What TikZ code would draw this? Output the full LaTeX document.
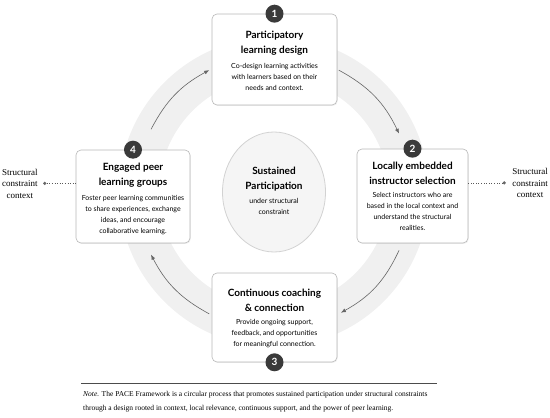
\documentclass[tikz,border=0pt]{standalone}
\usepackage{fontspec}
\setmainfont{Liberation Serif}
\newfontfamily\pacefont{Lato}
\usepackage{tikz}
\usetikzlibrary{shapes.geometric, arrows.meta, positioning, shadows, calc}
\definecolor{ringgray}{HTML}{F0F0F0}
\definecolor{badgegray}{HTML}{3A3A3A}
\definecolor{edgegray}{HTML}{B8B8B8}
\definecolor{hubfill}{HTML}{F5F5F5}
\tikzstyle{stage} = [rectangle, rounded corners=5pt, draw=edgegray, fill=white, line width=0.6pt, drop shadow={opacity=0.12, shadow xshift=0.8pt, shadow yshift=-1pt}]
\tikzstyle{stagetitle} = [inner sep=0pt, align=center, font=\pacefont\bfseries\fontsize{10}{15}\selectfont]
\tikzstyle{stagetext} = [inner sep=0pt, align=center, font=\pacefont\fontsize{7}{11}\selectfont]
\tikzstyle{badge} = [circle, fill=badgegray, text=white, minimum size=18pt, inner sep=0pt, font=\pacefont\bfseries\fontsize{10}{10}\selectfont]
\tikzstyle{flow} = [-{Latex[length=5pt,width=4pt]}, gray!80!black, line width=0.6pt]
\tikzstyle{ctxtext} = [inner sep=0pt, align=center, font=\fontsize{9}{11.5}\selectfont]
\tikzstyle{ctxdot} = [circle, fill=gray!80!black, minimum size=3.5pt, inner sep=0pt]
\tikzstyle{ctxlink} = [dotted, gray!70!black, line width=0.6pt]
\begin{document}
\begin{tikzpicture}[x=1pt, y=1pt]
    \useasboundingbox (0,0) rectangle (550,418);
    \coordinate (core) at (274,226);
    \draw[ringgray, line width=40pt] (core) circle[radius=135];

    \coordinate (a4s) at ($(core)+(153:138)$);
    \coordinate (a4e) at ($(core)+(118:138)$);
    \coordinate (a1s) at ($(core)+(62:138)$);
    \coordinate (a1e) at ($(core)+(25:138)$);
    \coordinate (a2s) at ($(core)+(-25:138)$);
    \coordinate (a2e) at ($(core)+(-61:138)$);
    \coordinate (a3s) at ($(core)+(-118:138)$);
    \coordinate (a3e) at ($(core)+(-153:138)$);
    \draw[flow] (a4s) to[bend left=17] (a4e);
    \draw[flow] (a1s) to[bend left=18] (a1e);
    \draw[flow] (a2s) to[bend left=18] (a2e);
    \draw[flow] (a3s) to[bend left=17] (a3e);

    \node[ellipse, minimum width=103pt, minimum height=120pt, fill=hubfill, draw=gray!35, line width=0.8pt] (hub) at (core) {};
    \node[stagetitle, above=1pt of hub.center] (hubhead) {Sustained\\Participation};
    \node[stagetext, below=6pt of hub.center] (hubtext) {under structural\\constraint};

    \node[stage, minimum width=125pt, minimum height=91pt] (stage1) at (274.5,358.5) {};
    \node[stagetitle, below=17pt of stage1.north] (head1) {Participatory\\learning design};
    \node[stagetext, below=8pt of head1] (text1) {Co-design learning activities\\with learners based on their\\needs and context.};
    \node[badge] (num1) at (stage1.north) {1};

    \node[stage, minimum width=111pt, minimum height=94pt] (stage2) at (412.5,222) {};
    \node[stagetitle, below=13pt of stage2.north] (head2) {Locally embedded\\instructor selection};
    \node[stagetext, below=8pt of head2] (text2) {Select instructors who are\\based in the local context and\\understand the structural\\realities.};
    \node[badge] (num2) at (stage2.north) {2};

    \node[stage, minimum width=125pt, minimum height=89pt] (stage3) at (274.5,100.5) {};
    \node[stagetitle, below=16pt of stage3.north] (head3) {Continuous coaching\\\& connection};
    \node[stagetext, below=8pt of head3] (text3) {Provide ongoing support,\\feedback, and opportunities\\for meaningful connection.};
    \node[badge] (num3) at (stage3.south) {3};

    \node[stage, minimum width=114pt, minimum height=93pt] (stage4) at (133,221.5) {};
    \node[stagetitle, below=13pt of stage4.north] (head4) {Engaged peer\\learning groups};
    \node[stagetext, below=8pt of head4] (text4) {Foster peer learning communities\\to share experiences, exchange\\ideas, and encourage\\collaborative learning.};
    \node[badge] (num4) at (stage4.north) {4};

    \node[ctxdot, yshift=13pt, left=29pt of stage4.west] (dotL) {};
    \node[ctxtext, left=5pt of dotL] (ctxL) {Structural\\constraint\\context};
    \draw[ctxlink] (dotL) -- (dotL -| stage4.west);
    \node[ctxdot, yshift=13pt, right=34pt of stage2.east] (dotR) {};
    \node[ctxtext, right=6pt of dotR] (ctxR) {Structural\\constraint\\context};
    \draw[ctxlink] (dotR) -- (dotR -| stage2.east);

    \coordinate (ruleL) at (81,35);
    \coordinate (ruleR) at (437,35);
    \draw[gray!60!black, line width=0.8pt] (ruleL) -- (ruleR);
    \node[anchor=north west, inner sep=0pt, align=left, font=\fontsize{7.5}{14}\selectfont] (note) at (83,27) {\textit{Note.} The PACE Framework is a circular process that promotes sustained participation under structural constraints\\through a design rooted in context, local relevance, continuous support, and the power of peer learning.};
\end{tikzpicture}
\end{document}
